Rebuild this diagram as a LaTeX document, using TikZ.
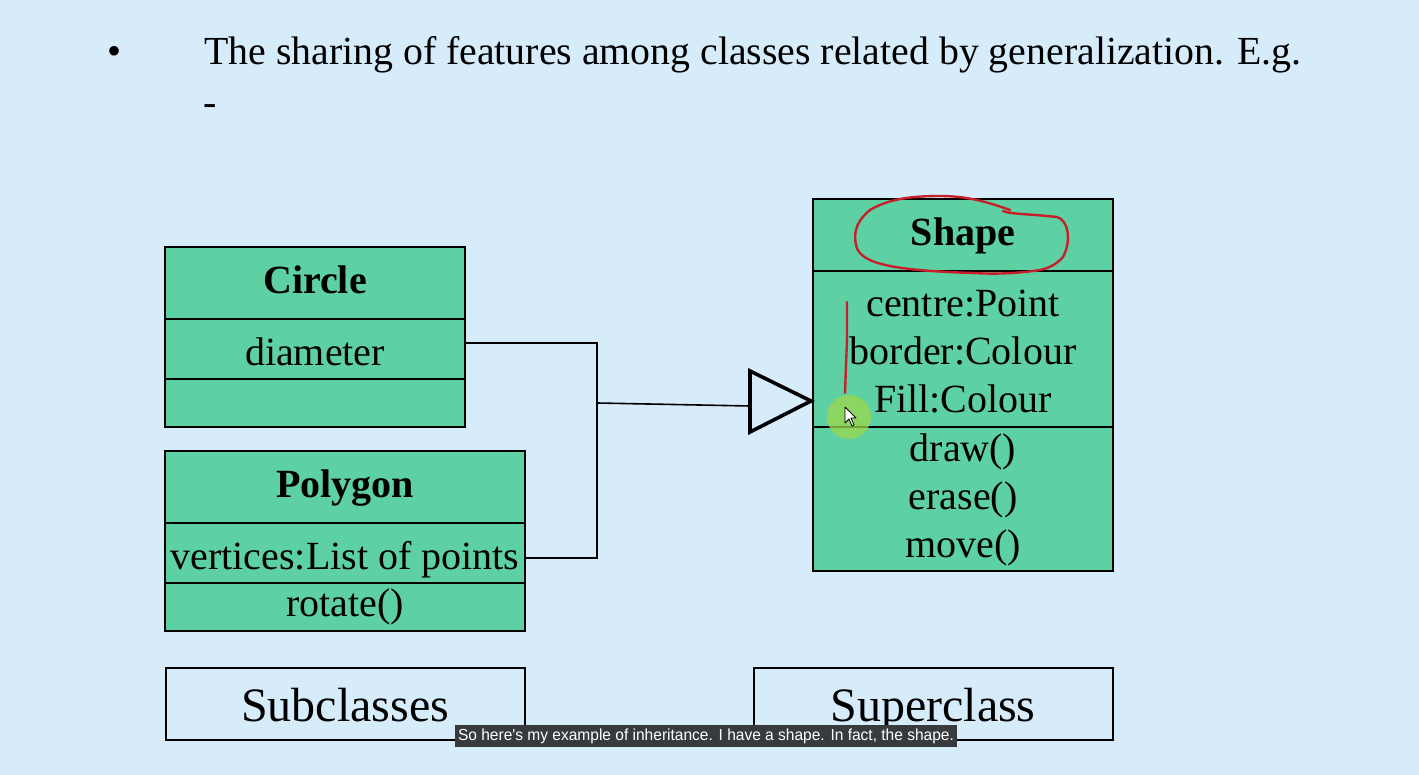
\documentclass[tikz,border=0pt]{standalone}
\usepackage{fontspec}
\setmainfont{Liberation Serif}
\newfontfamily\capfont{Liberation Sans}
\usetikzlibrary{calc}
\definecolor{bgblue}{HTML}{D7ECFB}
\definecolor{umlgreen}{HTML}{5DD0A4}
\definecolor{penred}{HTML}{C8202A}
\definecolor{hlgreen}{HTML}{9BD84A}
\definecolor{capbg}{HTML}{383B3E}
\tikzset{
  comp/.style={draw=black, line width=2, fill=umlgreen, anchor=north west, inner sep=0, outer sep=0},
  txt/.style={anchor=base, inner sep=0, font=\fontsize{40}{48}\selectfont},
  ttl/.style={anchor=base, inner sep=0, font=\bfseries\fontsize{40}{48}\selectfont},
  lbl/.style={draw=black, line width=2, fill=none, anchor=north west, inner sep=0, minimum width=359, minimum height=72},
  big/.style={anchor=base, inner sep=0, font=\fontsize{48}{56}\selectfont},
  conn/.style={draw=black, line width=1.6},
  pen/.style={draw=penred, line width=2.4, line cap=round, line join=round},
}
\begin{document}
\begin{tikzpicture}[x=1pt,y=-1pt]
\fill[bgblue] (0,0) rectangle (1419,775);
\useasboundingbox (0,0) rectangle (1419,775);

% heading
\node[txt] (bullet) at (115,65) {\textbullet};
\node[txt, anchor=base west, font=\fontsize{39.8}{48}\selectfont] (title) at (204,65) {The sharing of features among classes related by generalization. E.g.};
\node[txt, anchor=base west] (dash) at (203,116) {-};

% Circle
\node[comp, minimum width=300, minimum height=72] (cN) at (165,247) {};
\node[comp, minimum width=300, minimum height=60] (cA) at (165,319) {};
\node[comp, minimum width=300, minimum height=48] (cM) at (165,379) {};
\node[ttl] (cNt) at (315,294) {Circle};
\node[txt] (cAt) at (315,366) {diameter};

% Polygon
\node[comp, minimum width=360, minimum height=72] (pN) at (165,451) {};
\node[comp, minimum width=360, minimum height=60] (pA) at (165,523) {};
\node[comp, minimum width=360, minimum height=48] (pM) at (165,583) {};
\node[ttl] (pNt) at (345,497) {Polygon};
\node[txt] (pAt) at (345,569) {vertices:List of points};
\node[txt] (pMt) at (345,616) {rotate()};

% Shape
\node[comp, minimum width=300, minimum height=72] (sN) at (813,199) {};
\node[comp, minimum width=300, minimum height=156] (sA) at (813,271) {};
\node[comp, minimum width=300, minimum height=144] (sM) at (813,427) {};
\node[ttl] (sNt) at (963,246) {Shape};
\node[txt] (sA1) at (963,317) {centre:Point};
\node[txt] (sA2) at (963,365) {border:Colour};
\node[txt] (sA3) at (963,413) {Fill:Colour};
\node[txt] (sM1) at (963,461) {draw()};
\node[txt] (sM2) at (963,509) {erase()};
\node[txt] (sM3) at (963,557) {move()};

% generalization connectors
\coordinate (j1) at (597,343);
\coordinate (j2) at (597,558);
\coordinate (j3) at (597,403);
\coordinate (tb) at (750,406);
\coordinate (tip) at (811,401);
\coordinate (tt) at (750,371);
\coordinate (tbt) at (750,432);
\draw[conn] (j1 -| cA.east) -- (j1) -- (j2) -- (j2 -| pA.east);
\draw[conn] (j3) -- (tb);
\draw[black, line width=3.6, line join=miter] (tip) -- (tt) -- (tbt) -- cycle;

% labels
\node[lbl] (sub) at (165,667) {};
\node[lbl] (sup) at (753,667) {};
\node[big] (subt) at (345,721) {Subclasses};
\node[big] (supt) at (933,721) {Superclass};

% pen annotations
\draw[pen] (1003,211) .. controls (1008,214) and (1030,214) .. (1057,217)
  .. controls (1068,220) and (1072,240) .. (1063,257)
  .. controls (1055,266) and (1045,270) .. (1033,271)
  .. controls (1010,274) and (990,274) .. (973,273)
  .. controls (940,272) and (910,270) .. (890,266)
  .. controls (870,262) and (858,256) .. (856,245)
  .. controls (853,230) and (858,220) .. (870,210)
  .. controls (890,198) and (915,196) .. (940,196)
  .. controls (965,196) and (985,201) .. (1010,210);
\draw[pen] (847,302) -- (847,340) -- (846,365) -- (845,393);

% pointer highlight and cursor
\fill[hlgreen, opacity=0.75] (849,417) circle (22);
\draw[black, fill=white, line width=0.8, line join=round] (845,407) -- (845,423) -- (849,419) -- (852,426) -- (854,425) -- (851,418) -- (856,418) -- cycle;

% caption overlay
\node[fill=capbg, text=white, inner sep=0, minimum width=502, minimum height=22, font=\capfont\fontsize{16}{18}\selectfont] (cap) at (706,736) {\scalebox{0.97}[1]{So here's my example of inheritance. I have a shape. In fact, the shape.}};
\end{tikzpicture}
\end{document}
